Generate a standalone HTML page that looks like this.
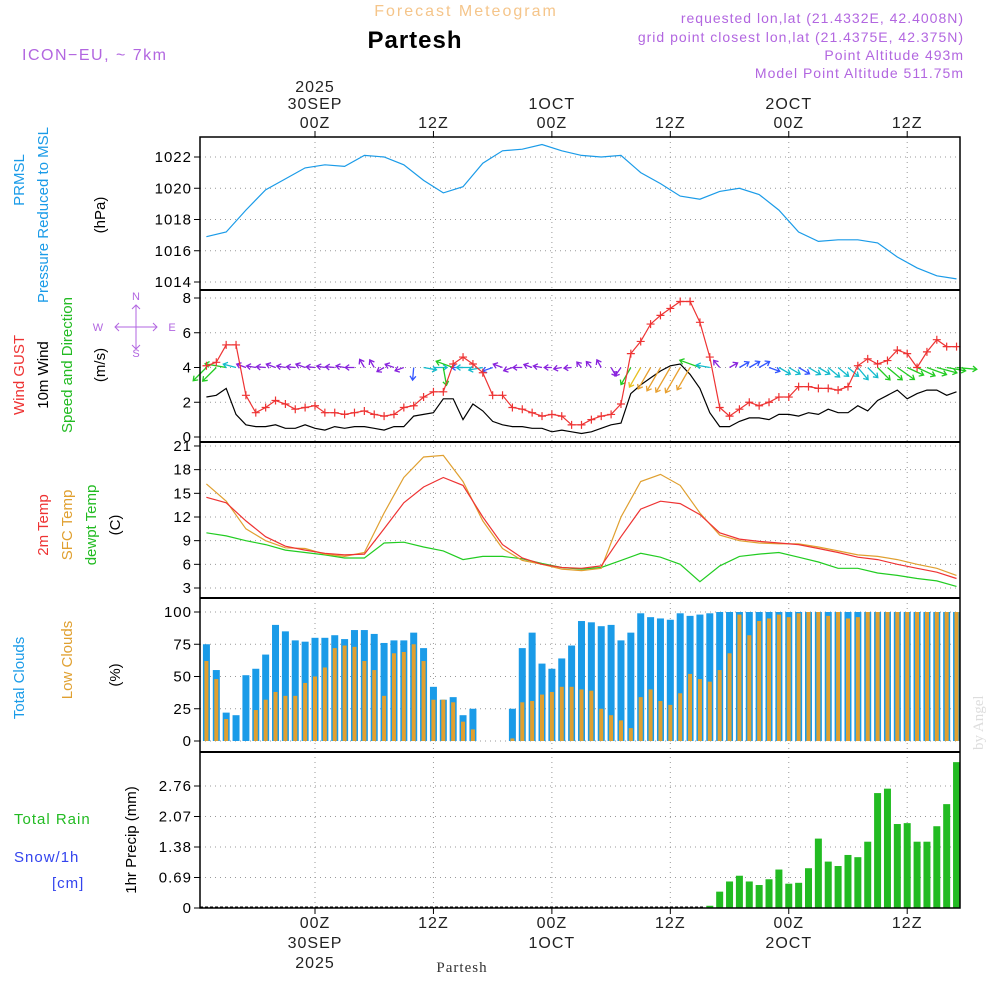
<!DOCTYPE html>
<html><head><meta charset="utf-8">
<style>
html,body{margin:0;padding:0;background:#fff;}
svg{display:block;font-family:"Liberation Sans",sans-serif;}
</style></head>
<body>
<svg id="chart" width="1000" height="1000" viewBox="0 0 1000 1000" xmlns="http://www.w3.org/2000/svg">
<text x="466" y="16" text-anchor="middle" font-size="16" fill="#f5c58a" letter-spacing="2">Forecast Meteogram</text>
<text x="415" y="48" text-anchor="middle" font-size="24" font-weight="bold" fill="#000" letter-spacing="1">Partesh</text>
<text x="22" y="60" font-size="16" fill="#b266e0" letter-spacing="1.5">ICON−EU, ~ 7km</text>
<g font-size="14" fill="#b266e0" text-anchor="end" letter-spacing="1">
<text x="964" y="23">requested lon,lat (21.4332E, 42.4008N)</text>
<text x="964" y="42">grid point closest lon,lat (21.4375E, 42.375N)</text>
<text x="964" y="60">Point Altitude 493m</text>
<text x="964" y="78">Model Point Altitude 511.75m</text>
</g>
<g id="layer"></g>
<text x="462" y="972" text-anchor="middle" font-size="15" font-family="Liberation Serif,serif" fill="#333" letter-spacing="1">Partesh</text>
<text transform="translate(983,750) rotate(-90)" font-size="15" font-family="Liberation Serif,serif" fill="#ddd">by Angel</text>
</svg>
<script>
// ---- data ----
const lineHours = [-11,-9,-7,-5,-3,-1,1,3,5,7,9,11,13,15,17,19,21,23,25,27,29,31,33,35,37,39,41,43,45,47,49,51,53,55,57,59,61,63,65];
const pressure = [1016.9,1017.2,1018.6,1019.9,1020.6,1021.3,1021.5,1021.4,1022.1,1022.0,1021.5,1020.5,1019.7,1020.1,1021.6,1022.4,1022.5,1022.8,1022.4,1022.1,1022.0,1022.1,1021.0,1020.3,1019.5,1019.3,1019.8,1020.0,1019.6,1018.6,1017.2,1016.6,1016.7,1016.7,1016.5,1015.6,1014.9,1014.4,1014.2];
const temp2m = [14.5,13.8,11.5,9.5,8.3,7.8,7.4,7.2,7.3,10.5,13.8,15.8,17.0,16.0,12.0,8.5,6.8,6.0,5.6,5.5,5.8,9.5,13.0,14.0,13.7,12.3,10.0,9.2,8.9,8.7,8.5,8.0,7.5,6.9,6.6,6.0,5.5,5.0,4.2];
const tempSfc = [16.2,14.0,10.5,9.0,8.1,8.0,7.3,7.0,7.5,12.5,17.0,19.6,19.8,16.5,11.5,8.0,6.5,6.0,5.4,5.2,5.5,12.0,16.5,17.4,16.0,12.5,9.7,9.0,8.7,8.6,8.6,8.2,7.7,7.2,7.0,6.6,6.0,5.5,4.6];
const dewpt = [10.0,9.6,9.0,8.5,7.8,7.5,7.2,6.8,6.8,8.7,8.8,8.2,7.7,6.6,7.0,7.0,6.7,6.1,5.6,5.4,5.6,6.5,7.4,6.9,6.0,3.8,5.8,7.0,7.3,7.5,6.9,6.3,5.5,5.5,4.9,4.6,4.2,3.9,3.2];
const barStartHour = -11;
const gust = [4.1,4.3,5.3,5.3,2.4,1.4,1.7,2.1,1.9,1.6,1.7,1.8,1.4,1.4,1.3,1.4,1.5,1.3,1.2,1.3,1.7,1.8,2.3,2.6,2.6,4.2,4.6,4.2,3.7,2.4,2.4,1.7,1.6,1.4,1.2,1.3,1.2,0.7,0.7,1.0,1.2,1.3,1.9,4.8,5.5,6.5,7.0,7.4,7.8,7.8,6.6,4.6,1.7,1.2,1.6,2.0,1.8,2.0,2.3,2.3,2.9,2.9,2.8,2.8,2.7,2.9,4.1,4.5,4.2,4.4,5.0,4.8,4.0,4.9,5.6,5.2,5.2];
const wind10m = [2.3,2.4,2.8,1.3,0.7,0.6,0.6,0.7,0.5,0.5,0.7,0.5,0.4,0.6,0.5,0.6,0.6,0.5,0.4,0.6,0.6,1.2,1.3,1.4,2.2,2.2,1.0,1.9,1.5,0.9,0.7,0.6,0.6,0.5,0.5,0.3,0.4,0.3,0.2,0.3,0.5,0.7,0.8,2.5,3.0,3.4,3.8,4.1,4.2,3.6,2.8,1.4,0.6,0.6,0.9,1.1,1.1,1.0,1.3,1.3,1.2,1.4,1.3,1.6,1.4,1.4,1.8,1.5,2.1,2.4,2.7,2.2,2.5,2.7,2.7,2.4,2.6];
const windDir = [135,135,190,195,200,190,185,200,190,185,200,185,190,185,190,180,240,240,150,200,160,95,10,0,80,200,180,180,170,160,200,160,180,200,190,180,170,175,230,230,240,60,125,120,120,120,120,120,120,120,200,190,230,330,330,330,330,20,30,30,30,30,30,40,40,40,50,45,45,40,35,25,25,20,15,10,5];
const totalClouds = [75,55,22,20,51,56,67,90,85,78,77,80,80,82,79,86,86,83,76,78,78,84,72,42,32,34,20,25,0,0,0,25,72,84,60,56,64,74,93,92,89,90,78,84,99,96,95,94,99,97,98,99,100,100,100,100,100,100,100,100,100,100,100,100,100,100,100,100,100,100,100,100,100,100,100,100,100];
const lowClouds = [62,48,17,0,0,24,32,38,35,35,45,50,57,72,74,73,62,55,35,68,69,75,62,32,32,30,15,9,0,0,0,2,30,31,36,38,42,42,40,39,25,20,16,10,34,40,31,28,37,52,48,46,55,68,98,82,93,95,98,96,99,100,100,97,100,95,96,100,100,100,100,100,100,100,100,100,100];
const precip = [0,0,0,0,0,0,0,0,0,0,0,0,0,0,0,0,0,0,0,0,0,0,0,0,0,0,0,0,0,0,0,0,0,0,0,0,0,0,0,0,0,0,0,0,0,0,0,0,0,0,0,0.05,0.37,0.6,0.73,0.6,0.52,0.65,0.87,0.55,0.57,0.9,1.57,1.05,0.95,1.2,1.15,1.5,2.6,2.7,1.9,1.92,1.5,1.5,1.85,2.35,3.3];
const pTicks = [1014,1016,1018,1020,1022];
const wTicks = [0,2,4,6,8];
const tTicks = [3,6,9,12,15,18,21];
const cTicks = [0,25,50,75,100];
const rTicks = [0,0.69,1.38,2.07,2.76];
const timeTicks = [0,12,24,36,48,60];
const timeLabels = ["00Z","12Z","00Z","12Z","00Z","12Z"];
const dateLabels = ["30SEP","","1OCT","","2OCT",""];

// ---- scales ----
const X0=200, X1=960;
const xh = h => 315 + h*9.87;
const yP = v => 282 - (v-1014)*15.625;
const yW = v => 437 - v*17.375;
const yT = v => 588 - (v-3)*7.89;
const yC = v => 741 - v*1.29;
const yR = v => 908 - v*44.2;

const NS="http://www.w3.org/2000/svg";
const layer=document.getElementById('layer');
function mk(tag,attrs,parent){const e=document.createElementNS(NS,tag);for(const k in attrs)e.setAttribute(k,attrs[k]);(parent||layer).appendChild(e);return e;}
function txt(x,y,s,attrs){const e=mk('text',Object.assign({x:x,y:y},attrs||{}));e.textContent=s;return e;}

const panels=[{t:137,b:290,ticks:pTicks,f:yP,fmt:v=>v,name:'pressure'},
{t:290,b:442,ticks:wTicks,f:yW,fmt:v=>v,name:'wind'},
{t:442,b:598,ticks:tTicks,f:yT,fmt:v=>v,name:'temperature'},
{t:598,b:752,ticks:cTicks,f:yC,fmt:v=>v,name:'clouds'},
{t:752,b:908,ticks:rTicks,f:yR,fmt:v=>v===0?'0':v.toFixed(2),name:'precip'}];

panels.forEach(p=>{
  const g=mk('g',{});
  
  
  timeTicks.forEach(h=>{
    const l=mk('line',{x1:xh(h),x2:xh(h),y1:p.t,y2:p.b,stroke:'#999','stroke-dasharray':'1,4'},g);
    
    
  });
  p.ticks.forEach(v=>{
    const y=p.f(v);
    const l=mk('line',{x1:X0,x2:X1,y1:y,y2:y,stroke:'#999','stroke-dasharray':'1,4'},g);
    
    
    mk('line',{x1:X0-6,x2:X0,y1:y,y2:y,stroke:'#000'},g);
    const t=txt(X0-8,y+5,String(p.fmt(v)),{'text-anchor':'end','font-size':'15',fill:'#000','letter-spacing':'1'});
    
    
    g.appendChild(t);
  });
});

function path(hs,vals,f,color,w,name){
  const d=hs.map((h,i)=>(i?'L':'M')+xh(h).toFixed(1)+','+f(vals[i]).toFixed(1)).join('');
  const e=mk('path',{d:d,fill:'none',stroke:color,'stroke-width':w||1.2});
  
  
  return e;
}
const barHours = totalClouds.map((v,i)=>barStartHour+i);
// bars
totalClouds.forEach((v,i)=>{
  const x=xh(barHours[i]);
  const r=mk('rect',{x:x-3.5,y:yC(v),width:7,height:yC(0)-yC(v),fill:'#1a9be8'});
  
  
});
lowClouds.forEach((v,i)=>{
  const x=xh(barHours[i]);
  const r=mk('rect',{x:x-2,y:yC(v),width:4,height:yC(0)-yC(v),fill:'#e0a030'});
  
  
});
mk('line',{x1:X0,x2:705,y1:907,y2:907,stroke:'#000','stroke-dasharray':'3,2'});
precip.forEach((v,i)=>{
  if(v<=0)return;
  const x=xh(barHours[i]);
  const r=mk('rect',{x:x-3.5,y:yR(v),width:7,height:yR(0)-yR(v),fill:'#22bb22'});
  
  
});
// lines
path(lineHours,pressure,yP,'#1a9be8',1.2,'pressure-line');
path(barHours,wind10m,yW,'#000',1.2,'wind-speed-line');
windDir.forEach((a,i)=>{
  const s=wind10m[i];
  const col=s<0.9?'#8822dd':s<1.25?'#3355ff':s<2.0?'#11bbcc':s<3.0?'#22cc22':s<3.3?'#e8c020':'#e8a030';
  const len=6+s*5.5;
  const x=xh(barHours[i]),y=yW(4);
  const rad=a*Math.PI/180;
  const x2=x+Math.cos(rad)*len,y2=y+Math.sin(rad)*len;
  const h1=rad+Math.PI*0.8,h2=rad-Math.PI*0.8;
  const d=`M${x.toFixed(1)},${y}L${x2.toFixed(1)},${y2.toFixed(1)}M${(x2+Math.cos(h1)*5).toFixed(1)},${(y2+Math.sin(h1)*5).toFixed(1)}L${x2.toFixed(1)},${y2.toFixed(1)}L${(x2+Math.cos(h2)*5).toFixed(1)},${(y2+Math.sin(h2)*5).toFixed(1)}`;
  const e=mk('path',{d:d,stroke:col,'stroke-width':1.3,fill:'none'});
  
  
});
path(barHours,gust,yW,'#ee3333',1.2,'wind-gust-line');
gust.forEach((v,i)=>{
  const x=xh(barHours[i]),y=yW(v);
  const m=mk('path',{d:`M${x-4},${y}H${x+4}M${x},${y-4}V${y+4}`,stroke:'#ee3333','stroke-width':1.2});
  
  
});
path(lineHours,dewpt,yT,'#22cc22',1.2,'dewpoint-line');
path(lineHours,tempSfc,yT,'#e0a030',1.2,'surface-temp-line');
path(lineHours,temp2m,yT,'#ee3333',1.2,'temp-2m-line');

// frames
const fr=mk('rect',{x:X0,y:137,width:X1-X0,height:771,fill:'none',stroke:'#000','stroke-width':1.5});


[290,442,598,752].forEach(y=>{
  const l=mk('line',{x1:X0,x2:X1,y1:y,y2:y,stroke:'#000','stroke-width':2});
  
  
});
// time labels
timeTicks.forEach((h,i)=>{
  const x=xh(h);
  mk('line',{x1:x,x2:x,y1:131,y2:137,stroke:'#000'});
  mk('line',{x1:x,x2:x,y1:908,y2:914,stroke:'#000'});
  const a={'text-anchor':'middle','font-size':'16',fill:'#222','letter-spacing':'1'};
  const t1=txt(x,128,timeLabels[i],a);
  
  
  const t2=txt(x,928,timeLabels[i],a);
  
  
  if(dateLabels[i]){
    const d1=txt(x,109,dateLabels[i],a);
    
    
    const d2=txt(x,948,dateLabels[i],a);
    
    
  }
});
const yr1=txt(xh(0),92,'2025',{'text-anchor':'middle','font-size':'16',fill:'#222','letter-spacing':'1'});


const yr2=txt(xh(0),968,'2025',{'text-anchor':'middle','font-size':'16',fill:'#222','letter-spacing':'1'});



// axis titles (rotated)
function vt(x,yc,s,col,name){
  const e=txt(0,0,s,{transform:`translate(${x},${yc}) rotate(-90)`,'text-anchor':'middle','font-size':'15',fill:col});
  
  
}
vt(24,180,'PRMSL','#1a9be8','prmsl-title');
vt(48,215,'Pressure Reduced to MSL','#1a9be8','pressure-title');
vt(105,215,'(hPa)','#000','pressure-unit');
vt(24,375,'Wind GUST','#ee3333','gust-title');
vt(48,375,'10m Wind','#000','wind-title');
vt(72,365,'Speed and Direction','#22bb22','wind-dir-title');
vt(105,365,'(m/s)','#000','wind-unit');
vt(48,525,'2m Temp','#ee3333','temp2m-title');
vt(72,525,'SFC Temp','#e0a030','sfc-temp-title');
vt(96,525,'dewpt Temp','#22bb22','dewpt-title');
vt(120,525,'(C)','#000','temp-unit');
vt(24,678,'Total Clouds','#1a9be8','total-clouds-title');
vt(72,660,'Low Clouds','#e0a030','low-clouds-title');
vt(120,675,'(%)','#000','clouds-unit');
vt(136,840,'1hr Precip (mm)','#000','precip-title');
const tr=txt(14,824,'Total  Rain',{'font-size':'15',fill:'#22bb22','letter-spacing':'1'});


const sn=txt(14,862,'Snow/1h',{'font-size':'15',fill:'#3344ee','letter-spacing':'1'});


const cm=txt(52,888,'[cm]',{'font-size':'15',fill:'#3344ee','letter-spacing':'1'});


// compass
const cg=mk('g',{});


const cc='#b266e0';
txt(136,300,'N',{'font-size':'11',fill:cc,'text-anchor':'middle'});
txt(136,357,'S',{'font-size':'11',fill:cc,'text-anchor':'middle'});
txt(98,331,'W',{'font-size':'11',fill:cc,'text-anchor':'middle'});
txt(172,331,'E',{'font-size':'11',fill:cc,'text-anchor':'middle'});
mk('path',{d:'M115,327H157M119,323L115,327L119,331M153,323L157,327L153,331M136,305V349M132,309L136,305L140,309M132,345L136,349L140,345',stroke:cc,'stroke-width':1,fill:'none'},cg);
</script>
</body></html>
